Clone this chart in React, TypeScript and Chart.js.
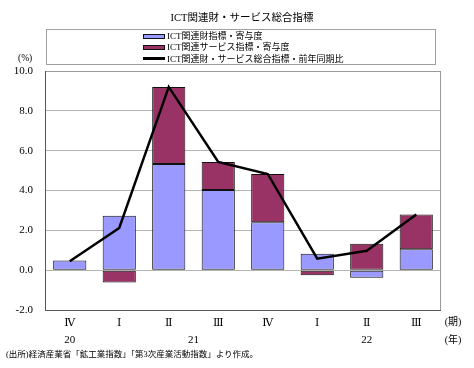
import React, { useEffect, useRef } from 'react';
import { Chart, registerables } from 'chart.js';
Chart.register(...registerables);

const quarters = ['Ⅳ', 'Ⅰ', 'Ⅱ', 'Ⅲ', 'Ⅳ', 'Ⅰ', 'Ⅱ', 'Ⅲ'];
const yearLabels = ['20', '21', '22'];
const yearFrom = [0, 1, 5];
const yearTo = [0, 4, 7];
const goods = [0.48, 2.73, 5.33, 4.03, 2.4, 0.83, -0.38, 1.05];
const services = [0, -0.62, 3.87, 1.4, 2.43, -0.25, 1.33, 1.75];
const total = [0.45, 2.12, 9.2, 5.43, 4.83, 0.58, 0.97, 2.8];
const seriesNames = ['ICT関連財指標・寄与度', 'ICT関連サービス指標・寄与度', 'ICT関連財・サービス総合指標・前年同期比'];
const chartTitle = 'ICT関連財・サービス総合指標';
const sourceNote = '(出所)経済産業省「鉱工業指数」「第3次産業活動指数」より作成。';

const SERIF = "'Liberation Serif', 'DejaVu Serif', 'Noto Sans CJK JP', serif";
const JP = "'Liberation Serif', 'Noto Sans CJK JP', serif";
const GOODS_COLOR = '#9999FF';
const SERV_COLOR = '#993366';

const extrasPlugin = {
  id: 'extras',
  afterDraw(chart: any) {
    const { ctx, chartArea, scales } = chart;
    const x = scales.x;
    ctx.save();
    ctx.strokeStyle = '#9a9a9a';
    ctx.lineWidth = 1;
    ctx.strokeRect(chartArea.left + 0.5, chartArea.top + 0.5, chartArea.right - chartArea.left - 1, chartArea.bottom - chartArea.top);
    ctx.strokeStyle = '#555';
    ctx.beginPath();
    ctx.moveTo(chartArea.left + 0.5, chartArea.top);
    ctx.lineTo(chartArea.left + 0.5, chartArea.bottom + 0.5);
    ctx.lineTo(chartArea.right, chartArea.bottom + 0.5);
    ctx.stroke();
    ctx.fillStyle = '#000';
    ctx.font = `11px ${SERIF}`;
    ctx.textAlign = 'center';
    ctx.textBaseline = 'middle';
    const yy = chartArea.bottom + 30;
    yearLabels.forEach((lab, i) => {
      const cx = (x.getPixelForValue(yearFrom[i]) + x.getPixelForValue(yearTo[i])) / 2;
      ctx.fillText(lab, cx, yy);
    });
    ctx.font = `10px ${JP}`;
    ctx.fillText('(期)', chartArea.right + 12, chartArea.bottom + 12);
    ctx.fillText('(年)', chartArea.right + 12, yy);
    ctx.restore();
  },
};

function ChartView() {
  const ref = useRef<HTMLCanvasElement>(null);
  useEffect(() => {
    if (!ref.current) return;
    const chart = new Chart(ref.current, {
      type: 'bar',
      data: {
        labels: quarters,
        datasets: [
          {
            type: 'line',
            label: seriesNames[2],
            data: total,
            borderColor: '#000',
            borderWidth: 2.5,
            pointRadius: 0,
            tension: 0,
            order: 0,
          } as any,
          {
            type: 'bar',
            label: seriesNames[0],
            data: goods,
            backgroundColor: GOODS_COLOR,
            borderColor: '#111',
            borderWidth: 1,
            borderSkipped: false,
            barPercentage: 0.67,
            categoryPercentage: 1,
            order: 1,
          },
          {
            type: 'bar',
            label: seriesNames[1],
            data: services,
            backgroundColor: SERV_COLOR,
            borderColor: '#111',
            borderWidth: 1,
            borderSkipped: false,
            barPercentage: 0.67,
            categoryPercentage: 1,
            order: 1,
          },
        ],
      },
      options: {
        animation: false,
        responsive: false,
        maintainAspectRatio: false,
        layout: { padding: { top: 71, right: 33, left: 0, bottom: 0 } },
        plugins: { legend: { display: false }, title: { display: false }, tooltip: { enabled: false } },
        scales: {
          x: {
            stacked: true,
            grid: { display: false, drawTicks: false },
            border: { display: false },
            ticks: { color: '#000', font: { family: SERIF, size: 11 }, padding: 7, maxRotation: 0 },
            afterFit: (s: any) => { s.height = 58; },
          },
          y: {
            stacked: true,
            min: -2,
            max: 10,
            grid: { color: '#b4b4b4', drawTicks: false, lineWidth: 1 },
            border: { display: false },
            ticks: {
              stepSize: 2,
              color: '#000',
              font: { family: SERIF, size: 11 },
              padding: 12,
              callback: (v: any) => Number(v).toFixed(1),
            },
            afterFit: (s: any) => { s.width = 45; },
          },
        },
      },
      plugins: [extrasPlugin],
    });
    return () => chart.destroy();
  }, []);
  return <canvas ref={ref} width={474} height={368} style={{ position: 'absolute', left: 0, top: 0, width: 474, height: 368 }} />;
}

export default function App() {
  const swatch = (i: number) => {
    if (i === 2) return <span style={{ display: 'inline-block', width: 22, height: 2.5, background: '#000', marginRight: 2 }} />;
    return (
      <span
        style={{
          display: 'inline-block',
          width: 20,
          height: 3,
          background: i === 0 ? GOODS_COLOR : SERV_COLOR,
          border: '1px solid #111',
          marginRight: 2,
        }}
      />
    );
  };
  return (
    <div style={{ position: 'fixed', left: 0, top: 0, width: 474, height: 368, background: '#fff', overflow: 'hidden', fontFamily: JP, color: '#000' }}>
      <ChartView />
      <div style={{ position: 'absolute', left: 0, width: 484, top: 11, textAlign: 'center', fontSize: 10.5, lineHeight: '14px' }}>{chartTitle}</div>
      <div style={{ position: 'absolute', left: 46, top: 29, width: 390, height: 36, border: '1px solid #a0a0a0', boxSizing: 'border-box' }} />
      {seriesNames.map((n, i) => (
        <div key={i} style={{ position: 'absolute', left: 143, top: 30 + i * 11.3, height: 12, fontSize: 9, lineHeight: '12px', whiteSpace: 'nowrap', display: 'flex', alignItems: 'center' }}>
          {swatch(i)}
          <span>{n}</span>
        </div>
      ))}
      <div style={{ position: 'absolute', left: 18, top: 52, fontSize: 9.5, lineHeight: '12px' }}>(%)</div>
      <div style={{ position: 'absolute', left: 6, top: 348, fontSize: 8.5, lineHeight: '12px', whiteSpace: 'nowrap' }}>{sourceNote}</div>
    </div>
  );
}
